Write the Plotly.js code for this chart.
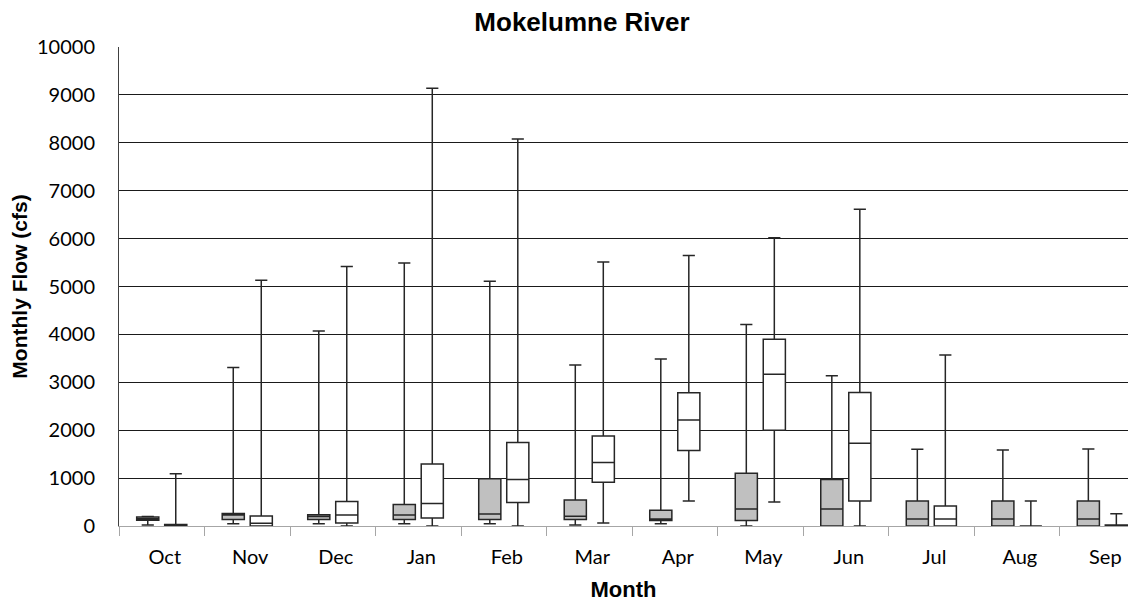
<!DOCTYPE html>
<html>
<head>
<meta charset="utf-8">
<script src="https://cdn.plot.ly/plotly-3.0.1.min.js"></script>
<style>html,body{margin:0;padding:0;background:#fff;}#chart{width:1129px;height:602px;}</style>
</head>
<body>
<div id="chart"></div>
<script>
const months = ["Oct","Nov","Dec","Jan","Feb","Mar","Apr","May","Jun","Jul","Aug","Sep"];

// Gray boxes (left)
const grayLower  = [20, 45, 45, 45, 45, 20, 45, 0, 0, 0, 0, 0];
const grayQ1     = [120, 135, 135, 135, 135, 135, 115, 115, 0, 0, 0, 0];
const grayMedian = [150, 230, 200, 230, 250, 205, 145, 355, 355, 145, 145, 145];
const grayQ3     = [190, 260, 235, 450, 985, 545, 330, 1100, 970, 520, 520, 520];
const grayUpper  = [200, 3310, 4070, 5490, 5110, 3360, 3485, 4205, 3135, 1600, 1585, 1605];

// White boxes (right)
const whiteLower  = [0, 0, 0, 0, 0, 65, 520, 500, 0, 0, 0, 0];
const whiteQ1     = [0, 0, 65, 165, 490, 915, 1575, 2000, 520, 0, 0, 0];
const whiteMedian = [10, 60, 230, 470, 970, 1325, 2215, 3170, 1730, 148, 0, 0];
const whiteQ3     = [30, 210, 510, 1295, 1745, 1880, 2780, 3900, 2785, 420, 0, 20];
const whiteUpper  = [1090, 5130, 5420, 9140, 8080, 5510, 5645, 6020, 6615, 3570, 520, 255];

const boxLine = {color: '#262626', width: 1.5};

const traces = [
  {
    type: 'box', name: 'gray', x: months,
    q1: grayQ1, median: grayMedian, q3: grayQ3,
    lowerfence: grayLower, upperfence: grayUpper,
    fillcolor: '#c0c0c0', line: boxLine, whiskerwidth: 0.55,
    boxpoints: false, hoverinfo: 'skip'
  },
  {
    type: 'box', name: 'white', x: months,
    q1: whiteQ1, median: whiteMedian, q3: whiteQ3,
    lowerfence: whiteLower, upperfence: whiteUpper,
    fillcolor: '#ffffff', line: boxLine, whiskerwidth: 0.55,
    boxpoints: false, hoverinfo: 'skip'
  }
];

const layout = {
  width: 1129, height: 602,
  margin: {l: 119, r: 1, t: 47, b: 76},
  paper_bgcolor: '#fff', plot_bgcolor: '#fff',
  showlegend: false,
  boxmode: 'group', boxgap: 0.345, boxgroupgap: 0.21,
  title: {
    text: '<b>Mokelumne River</b>',
    font: {family: 'Liberation Sans, Arial, sans-serif', size: 26, color: '#000'},
    x: 0.5155, xanchor: 'center', y: 0.963, yanchor: 'middle'
  },
  xaxis: {
    type: 'category', tickson: 'boundaries',
    range: [-0.5, 11.3],
    ticks: 'outside', ticklen: 9, tickcolor: '#a6a6a6', tickwidth: 1,
    showline: true, linecolor: '#a6a6a6', linewidth: 1,
    showgrid: false, zeroline: false,
    tickfont: {family: 'Lato, Open Sans, sans-serif', size: 20, color: '#000'},
    ticklabelstandoff: 13, ticklabelshift: 3,
    title: {text: '<b>Month</b>', font: {family: 'Liberation Sans, Arial, sans-serif', size: 22, color: '#000'}, standoff: 16},
    automargin: false
  },
  yaxis: {
    range: [0, 10000], dtick: 1000, tick0: 0, tickformat: 'd',
    showgrid: true, gridcolor: '#1a1a1a', gridwidth: 1,
    showline: true, linecolor: '#404040', linewidth: 1,
    zeroline: false,
    ticks: 'outside', ticklen: 19, tickcolor: 'rgba(0,0,0,0)',
    tickfont: {family: 'Lato, Open Sans, sans-serif', size: 20, color: '#000'},
    title: {text: '<b>Monthly Flow (cfs)</b>', font: {family: 'Liberation Sans, Arial, sans-serif', size: 21, color: '#000'}, standoff: 3},
    automargin: false
  }
};

Plotly.newPlot('chart', traces, layout, {staticPlot: true, displayModeBar: false});
</script>
</body>
</html>
